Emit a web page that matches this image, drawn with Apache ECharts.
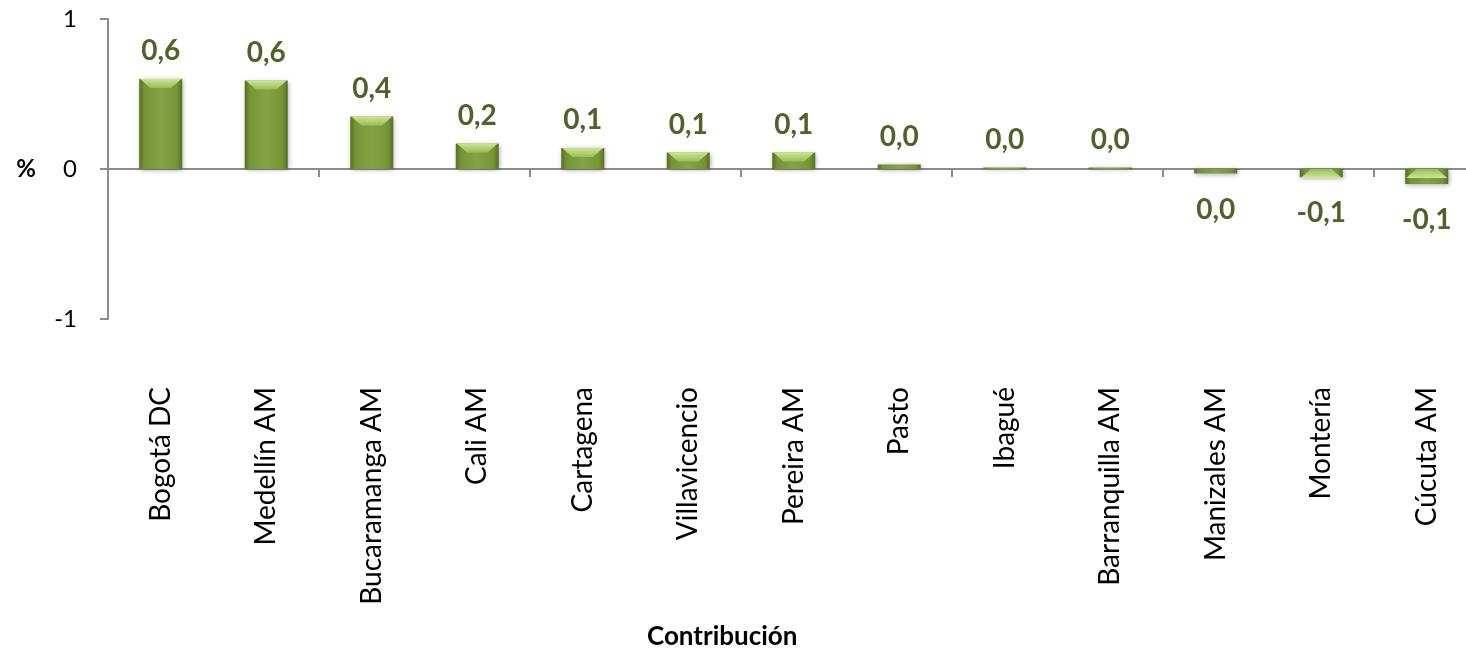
<!DOCTYPE html>
<html>
<head>
<meta charset="utf-8">
<script src="https://cdn.jsdelivr.net/npm/echarts@6/dist/echarts.min.js"></script>
<style>
  html, body { margin: 0; padding: 0; background: #fff; }
  #chart { width: 1466px; height: 653px; }
</style>
</head>
<body>
<div id="chart"></div>
<script>
var cities = ['Bogotá DC', 'Medellín AM', 'Bucaramanga AM', 'Cali AM', 'Cartagena',
  'Villavicencio', 'Pereira AM', 'Pasto', 'Ibagué', 'Barranquilla AM',
  'Manizales AM', 'Montería', 'Cúcuta AM'];
var contribucion = [0.60, 0.59, 0.35, 0.17, 0.14, 0.11, 0.11, 0.03, 0.01, 0.01, -0.03, -0.055, -0.10];

var FONT = 'Lato, "Liberation Sans", sans-serif';
var labelGreen = '#4f6228';
var axisGrey = '#8c8c8c';

function fmt(v) {
  var s = (Math.round(v * 10) / 10).toFixed(1);
  if (s === '-0.0') s = '0.0';
  return s.replace('.', ',');
}

var barFill = {
  type: 'linear', x: 0, y: 0, x2: 1, y2: 0,
  colorStops: [
    { offset: 0, color: '#56701f' },
    { offset: 0.12, color: '#749436' },
    { offset: 0.5, color: '#84a444' },
    { offset: 0.88, color: '#749436' },
    { offset: 1, color: '#56701f' }
  ]
};

var capFill = {
  type: 'linear', x: 0, y: 0, x2: 0, y2: 1,
  colorStops: [
    { offset: 0, color: '#d4ef9c' },
    { offset: 1, color: '#9cc05a' }
  ]
};

var myChart = echarts.init(document.getElementById('chart'));
myChart.setOption({
  animation: false,
  textStyle: { fontFamily: FONT },
  grid: { left: 108, top: 19, height: 300, width: 1371.5, outerBoundsMode: 'none', containLabel: false },
  graphic: [{
    type: 'text',
    left: 719 - 72,
    top: 624,
    style: {
      text: 'Contribución',
      font: 'bold 26px ' + FONT,
      fill: '#000'
    }
  }],
  xAxis: [
    {
      type: 'category',
      data: cities,
      position: 'bottom',
      axisLine: { show: false, onZero: false },
      axisTick: { show: false },
      axisLabel: {
        rotate: 90, margin: 68, fontSize: 28, color: '#000', fontFamily: FONT
      }
    },
    {
      type: 'category',
      data: cities,
      position: 'bottom',
      axisLine: { show: true, onZero: true, lineStyle: { color: axisGrey, width: 2 } },
      axisTick: { show: true, length: 8, lineStyle: { color: axisGrey, width: 2 } },
      axisLabel: { show: false }
    }
  ],
  yAxis: {
    type: 'value',
    min: -1, max: 1, interval: 1,
    splitLine: { show: false },
    axisLine: { show: true, lineStyle: { color: axisGrey, width: 2 } },
    axisTick: { show: true, length: 8, lineStyle: { color: axisGrey, width: 2 } },
    axisLabel: { fontSize: 24, color: '#000', margin: 31, fontFamily: FONT },
    name: '%',
    nameLocation: 'middle',
    nameRotate: 0,
    nameGap: 72,
    nameMoveOverlap: false,
    nameTextStyle: { fontSize: 24, fontWeight: 'bold', color: '#000', fontFamily: FONT }
  },
  series: [{
    type: 'bar',
    xAxisIndex: 1,
    data: contribucion.map(function (v) {
      return {
        value: v,
        label: { position: v < 0 ? 'bottom' : 'top', distance: v < 0 ? 22 : 14 }
      };
    }),
    barWidth: 43,
    z: 2,
    itemStyle: {
      color: barFill,
      shadowColor: 'rgba(0,0,0,0.35)',
      shadowBlur: 5,
      shadowOffsetX: 1,
      shadowOffsetY: 1
    },
    label: {
      show: true,
      fontSize: 28,
      fontWeight: 'bold',
      color: labelGreen,
      fontFamily: FONT,
      formatter: function (p) { return fmt(p.value); }
    }
  }, {
    type: 'pictorialBar',
    xAxisIndex: 1,
    z: 3,
    silent: true,
    data: contribucion.map(function (v) {
      return {
        value: v,
        symbol: Math.abs(v) < 0.05 ? 'none' : 'path://M0,0 L20,0 L15,3 L5,3 Z',
        symbolPosition: v < 0 ? 'start' : 'end'
      };
    }),
    symbolSize: [41, 9],
    symbolOffset: [0, 0],
    itemStyle: { color: capFill, opacity: 0.9 }
  }]
});
</script>
</body>
</html>
